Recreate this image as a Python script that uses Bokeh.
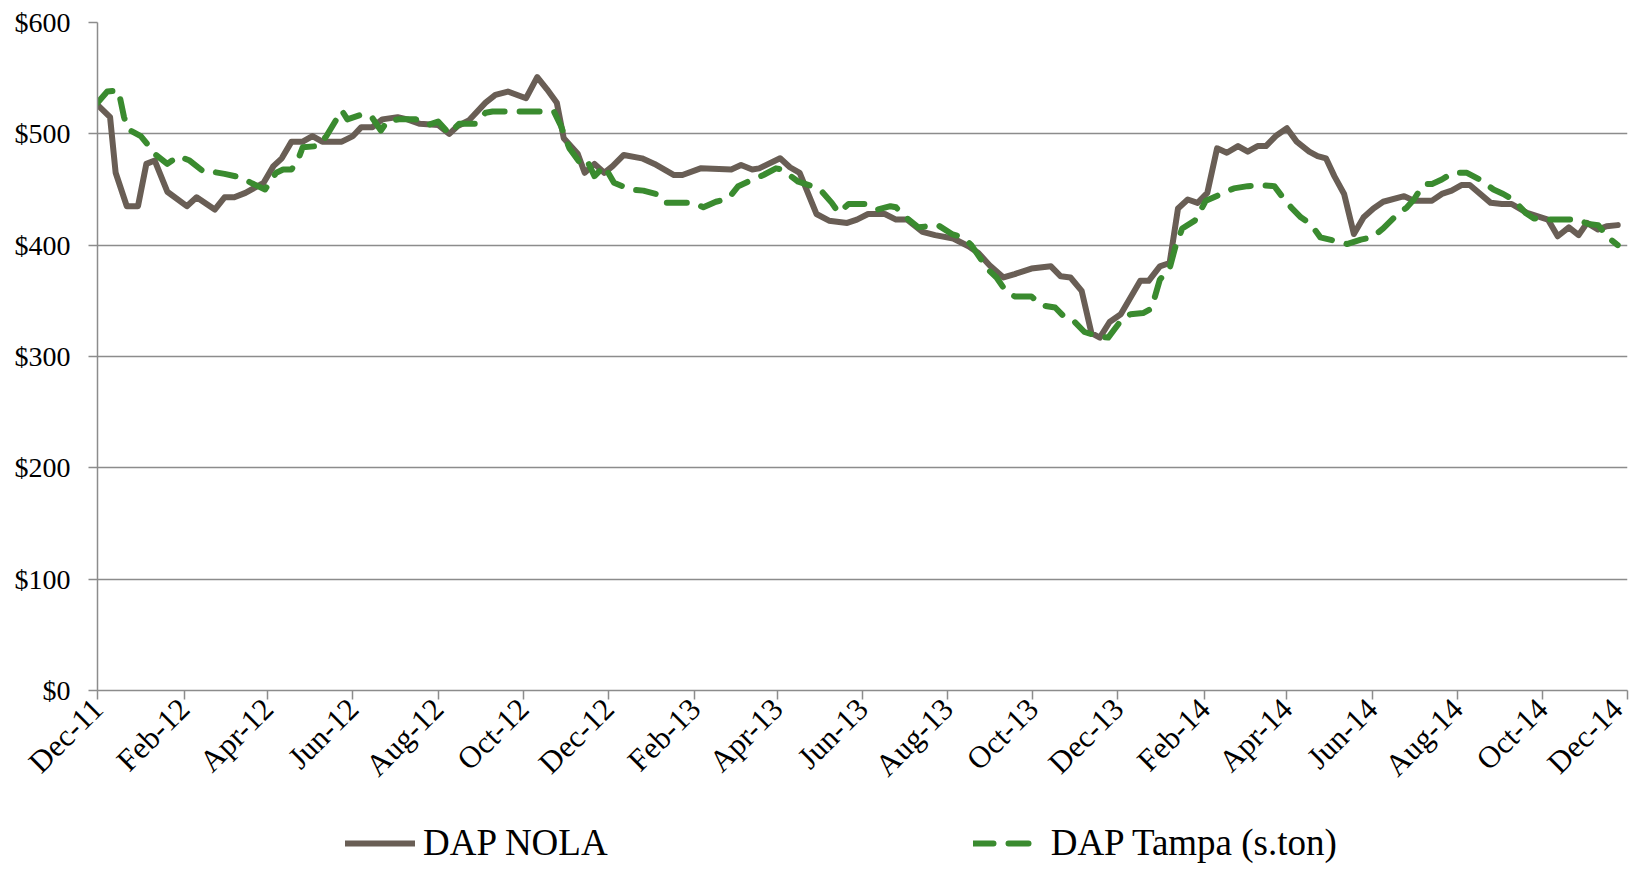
import math
import pandas as pd
from bokeh.plotting import figure
from bokeh.layouts import column
from bokeh.models import (FixedTicker, DatetimeTickFormatter, NumeralTickFormatter,
                          Legend, LegendItem, Range1d)
from bokeh.embed import file_html
from bokeh.resources import INLINE

# ---------------- data ----------------
start_date = "2011-12-01"
end_date = "2014-12-01"

tick_labels = ["Dec-11", "Feb-12", "Apr-12", "Jun-12", "Aug-12", "Oct-12", "Dec-12",
               "Feb-13", "Apr-13", "Jun-13", "Aug-13", "Oct-13", "Dec-13",
               "Feb-14", "Apr-14", "Jun-14", "Aug-14", "Oct-14", "Dec-14"]
y_ticks = [0, 100, 200, 300, 400, 500, 600]

series_names = ["DAP NOLA", "DAP Tampa (s.ton)"]

# days after start_date
nola_day = [0, 9, 13, 21, 29, 35, 41, 50, 64, 71, 84, 91, 98, 106, 119, 126, 132, 139, 147, 154,
            161, 175, 183, 189, 197, 204, 215, 222, 231, 244, 252, 258, 266, 278, 285, 294, 307,
            315, 322, 329, 334, 344, 349, 356, 363, 369, 377, 390, 399, 413, 419, 432, 454, 461,
            469, 474, 489, 496, 503, 515, 524, 537, 544, 552, 564, 572, 580, 591, 600, 613, 624,
            631, 639, 649, 657, 669, 683, 690, 697, 705, 712, 718, 725, 733, 747, 753, 761, 768,
            774, 781, 788, 795, 802, 809, 817, 824, 831, 837, 844, 852, 859, 868, 874, 880, 886,
            893, 900, 907, 914, 921, 936, 943, 956, 963, 970, 977, 983, 998, 1006, 1013, 1024,
            1039, 1046, 1054, 1061, 1067, 1075, 1081, 1089]
nola_price = [526, 515, 465, 435, 435, 473, 476, 448, 435, 443, 432, 443, 443, 447, 456, 471, 478,
              493, 493, 498, 493, 493, 498, 506, 506, 513, 515, 513, 509, 508, 500, 507, 512, 528,
              535, 538, 532, 551, 540, 528, 496, 482, 465, 473, 465, 471, 481, 478, 473, 463, 463,
              469, 468, 472, 468, 469, 478, 470, 465, 428, 422, 420, 423, 428, 428, 423, 423, 412,
              409, 406, 399, 393, 382, 371, 374, 379, 381, 372, 371, 359, 321, 317, 331, 338, 368,
              368, 381, 384, 433, 441, 438, 447, 487, 483, 489, 484, 489, 489, 498, 505, 493, 484,
              480, 478, 462, 446, 410, 425, 433, 439, 444, 440, 440, 446, 449, 454, 454, 438, 437,
              437, 429, 423, 408, 416, 409, 420, 414, 417, 418]

tampa_day = [0, 7, 15, 19, 22, 31, 42, 50, 58, 66, 76, 82, 91, 102, 110, 120, 128, 133, 139, 144,
             147, 158, 164, 175, 179, 191, 197, 203, 208, 216, 228, 237, 244, 252, 259, 271, 278,
             283, 327, 332, 338, 345, 350, 356, 363, 370, 382, 391, 400, 406, 427, 434, 443, 452,
             459, 466, 477, 486, 490, 502, 512, 519, 526, 531, 538, 550, 559, 568, 572, 578, 588,
             602, 612, 620, 626, 633, 638, 644, 650, 657, 669, 676, 686, 693, 700, 707, 717, 724,
             733, 740, 749, 755, 761, 768, 772, 777, 786, 794, 805, 814, 824, 833, 843, 849, 855,
             862, 869, 876, 886, 895, 905, 913, 921, 929, 938, 943, 948, 951, 956, 963, 971, 981,
             990, 1000, 1007, 1015, 1023, 1029, 1040, 1060, 1068, 1075, 1082, 1089]
tampa_price = [528, 538, 539, 515, 504, 498, 481, 473, 480, 476, 466, 466, 464, 461, 456, 450, 465,
               468, 468, 478, 488, 489, 498, 521, 513, 518, 514, 503, 512, 513, 513, 508, 511, 500,
               509, 509, 519, 520, 520, 507, 487, 475, 478, 462, 471, 456, 450, 449, 446, 438, 438,
               434, 439, 442, 453, 457, 463, 469, 468, 457, 453, 448, 438, 429, 437, 437, 432, 435,
               434, 426, 416, 418, 410, 407, 400, 387, 378, 371, 360, 354, 354, 346, 344, 335, 331,
               322, 318, 317, 332, 338, 339, 343, 369, 379, 398, 415, 422, 440, 446, 451, 453, 454,
               453, 443, 434, 425, 419, 407, 404, 401, 405, 407, 415, 425, 434, 441, 451, 455, 455,
               459, 465, 465, 459, 450, 446, 440, 429, 424, 423, 423, 419, 418, 407, 400]

# ---------------- build ----------------
start = pd.Timestamp(start_date)
nola_x = start + pd.to_timedelta(nola_day, unit="D")
tampa_x = start + pd.to_timedelta(tampa_day, unit="D")
tick_dates = pd.to_datetime(tick_labels, format="%b-%y")
tick_ms = [t.value / 1e6 for t in tick_dates]

FONT = "Liberation Serif"
GRID = "#8c8c8c"
BROWN = "#695e55"
GREEN = "#3a8b2f"
nola_style = dict(line_color=BROWN, line_width=6, line_join="round", line_cap="round")
tampa_style = dict(line_color=GREEN, line_width=6, line_dash="20 15",
                   line_join="round", line_cap="round")

W = 1629
MAIN_H = 798
LEG_H = 67

p = figure(width=W, height=MAIN_H, x_axis_type="datetime",
           x_range=Range1d(start, pd.Timestamp(end_date)), y_range=Range1d(0, 600),
           output_backend="svg", toolbar_location=None,
           min_border_left=97, min_border_right=2, min_border_top=22,
           min_border_bottom=MAIN_H - 22 - 678)

p.outline_line_color = None
p.background_fill_color = "white"
p.border_fill_color = "white"

p.line(nola_x, nola_price, **nola_style)
p.line(tampa_x, tampa_price, **tampa_style)

# axes
p.xaxis.ticker = FixedTicker(ticks=tick_ms)
fmt = "%b-%y"
p.xaxis.formatter = DatetimeTickFormatter(microseconds=fmt, milliseconds=fmt, seconds=fmt,
                                          minsec=fmt, minutes=fmt, hourmin=fmt, hours=fmt,
                                          days=fmt, months=fmt, years=fmt)
p.xaxis.major_label_orientation = math.pi / 4
p.yaxis.ticker = FixedTicker(ticks=y_ticks)
p.yaxis.formatter = NumeralTickFormatter(format="$0")

for ax in (p.xaxis, p.yaxis):
    ax.axis_line_color = GRID
    ax.axis_line_width = 1.5
    ax.major_tick_line_color = GRID
    ax.major_tick_line_width = 1.5
    ax.major_tick_out = 9
    ax.major_tick_in = 0
    ax.minor_tick_line_color = None
    ax.major_label_text_font = FONT
    ax.major_label_text_color = "black"

p.yaxis.major_label_text_font_size = "28px"
p.xaxis.major_label_text_font_size = "31px"
p.yaxis.major_label_standoff = 18
p.xaxis.major_label_standoff = 4

p.xgrid.grid_line_color = None
p.ygrid.grid_line_color = GRID
p.ygrid.grid_line_width = 1.5
p.ygrid.ticker = FixedTicker(ticks=y_ticks)

# ---------------- legend strip ----------------
pl = figure(width=W, height=LEG_H, x_range=Range1d(0, 1), y_range=Range1d(0, 1),
            output_backend="svg", toolbar_location=None, min_border=0)
pl.outline_line_color = None
pl.axis.visible = False
pl.grid.visible = False
# off-screen proxies that only carry the styles for the legend swatches
l1 = pl.line([-5, -4], [-5, -5], **nola_style)
l2 = pl.line([-5, -4], [-5, -5], **tampa_style)

legend = Legend(items=[LegendItem(label=series_names[0], renderers=[l1]),
                       LegendItem(label=series_names[1], renderers=[l2])],
                location=(248, 1), orientation="horizontal",
                padding=0, margin=0, spacing=365,
                border_line_color=None, background_fill_alpha=0,
                glyph_width=70, glyph_height=20, label_standoff=8,
                label_text_font=FONT, label_text_font_size="37px",
                label_text_color="black")
pl.add_layout(legend)

layout = column(p, pl, spacing=0)
open("out.html", "w").write(file_html(layout, INLINE))
